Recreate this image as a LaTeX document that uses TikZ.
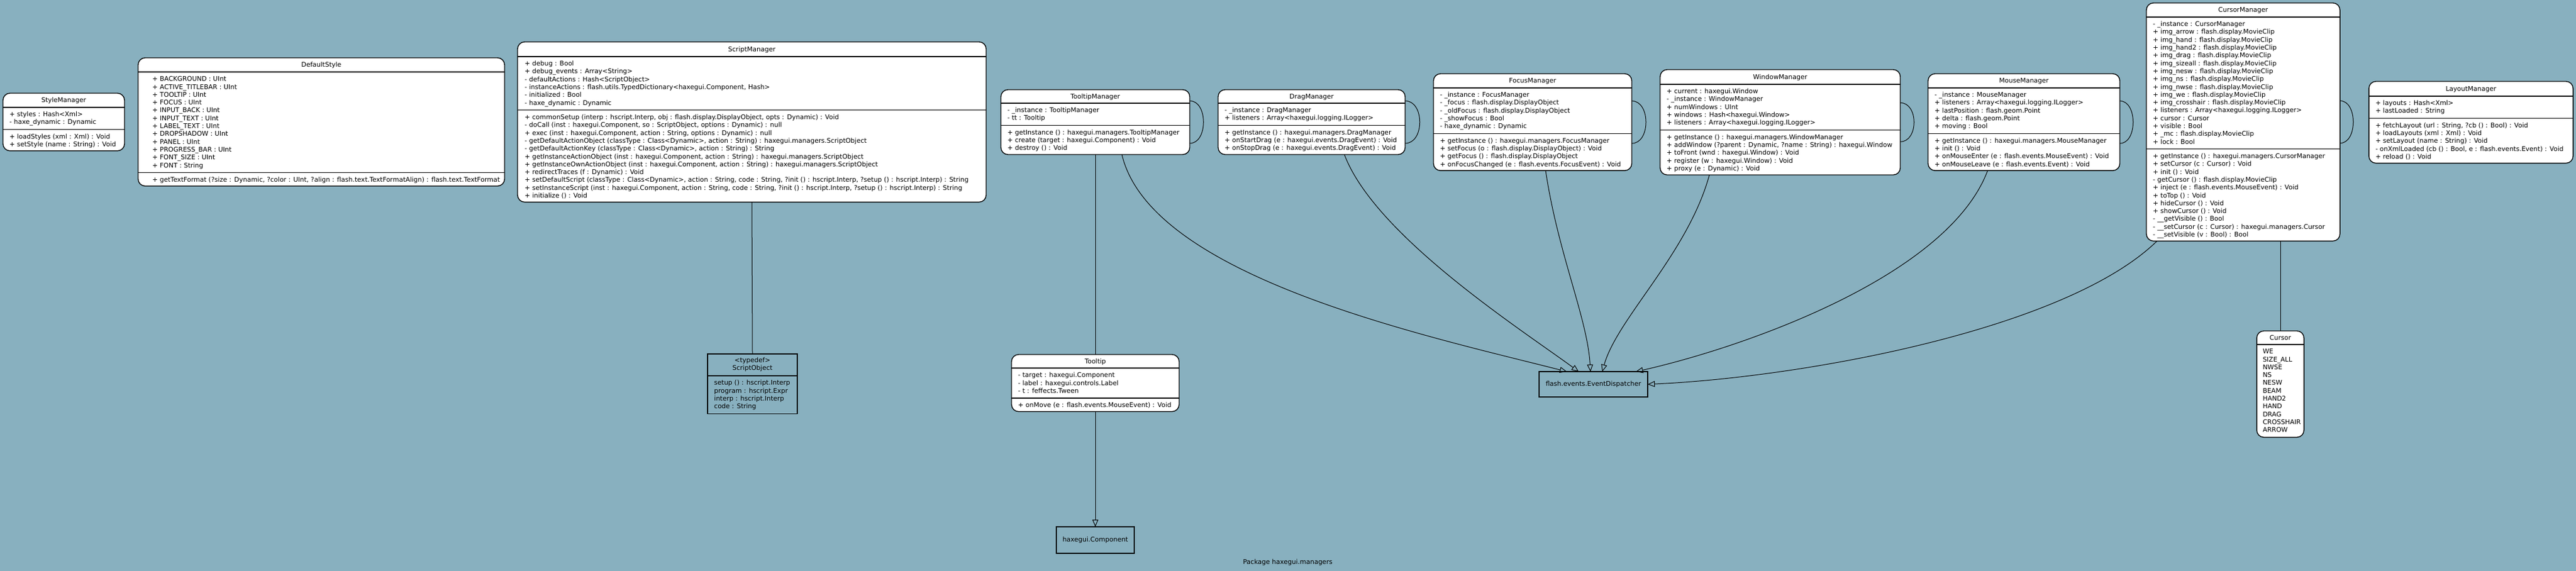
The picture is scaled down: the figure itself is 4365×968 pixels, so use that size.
\documentclass[tikz,border=0pt]{standalone}
\usepackage{fontspec}
\setmainfont{DejaVu Sans}
\usetikzlibrary{arrows.meta}
\definecolor{bgc}{RGB}{136,176,191}
\newcommand\ufont{\fontsize{11}{13.3}\selectfont}
\newcommand\ms{\rule{0pt}{10pt}}
\tikzset{
  clsbox/.style={draw=black, fill=white, line width=1.4pt, rounded corners=12pt, inner sep=0pt, outer sep=0pt},
  sqbox/.style={draw=black, fill=bgc, line width=1.1pt, inner sep=0pt, outer sep=0pt},
  divl/.style={draw=black, line width=1.4pt},
  ttl/.style={anchor=base, inner sep=0pt, font=\ufont},
  mem/.style={anchor=north west, inner sep=0pt, align=left, font=\ufont},
  assoc/.style={draw=black, line width=1pt},
  gen/.style={draw=black, line width=1pt, -{Triangle[open, length=12pt, width=10pt, line width=1pt]}},
}
% name, L, R, T, D1, B, title
\newcommand\uclass[7]{%
  \node[clsbox, anchor=north west, minimum width={#3-#2}, minimum height={#6-#4}] (#1) at (#2,#4) {};
  \node[ttl] (#1-t) at ({(#2+#3)/2},{(#4+#5)/2+4}) {#7};
  \draw[divl] (#2,#5) -- (#3,#5);
}
\newcommand\udiv[3]{\draw[divl] (#1,#3) -- (#2,#3);}
\begin{document}
\begin{tikzpicture}[x=1pt,y=-1pt]
\fill[bgc] (0,0) rectangle (4365,968);
\useasboundingbox (0,0) rectangle (4365,968);

% StyleManager
\uclass{stm}{5}{211}{158}{182}{255.7}{StyleManager}
\udiv{5}{211}{219.6}
\node[mem] (stm-a) at (16,187.5) {\ms+ styles : Hash<Xml>\\- haxe\_dynamic : Dynamic};
\node[mem] (stm-m) at (16,225.1) {\ms+ loadStyles (xml : Xml) : Void\\+ setStyle (name : String) : Void};

% DefaultStyle
\uclass{ds}{234}{855}{98}{122}{315.4}{DefaultStyle}
\udiv{234}{855}{292.6}
\node[mem] (ds-a) at (258,127.5) {\ms+ BACKGROUND : UInt\\+ ACTIVE\_TITLEBAR : UInt\\+ TOOLTIP : UInt\\+ FOCUS : UInt\\+ INPUT\_BACK : UInt\\+ INPUT\_TEXT : UInt\\+ LABEL\_TEXT : UInt\\+ DROPSHADOW : UInt\\+ PANEL : UInt\\+ PROGRESS\_BAR : UInt\\+ FONT\_SIZE : UInt\\+ FONT : String};
\node[mem] (ds-m) at (258,298.1) {\ms+ getTextFormat (?size : Dynamic, ?color : UInt, ?align : flash.text.TextFormatAlign) : flash.text.TextFormat};

% ScriptManager
\uclass{sm}{877}{1671}{71}{96}{342.6}{ScriptManager}
\udiv{877}{1671}{186.8}
\node[mem] (sm-a) at (889,101.5) {\ms+ debug : Bool\\+ debug\_events : Array<String>\\- defaultActions : Hash<ScriptObject>\\- instanceActions : flash.utils.TypedDictionary<haxegui.Component, Hash>\\- initialized : Bool\\- haxe\_dynamic : Dynamic};
\node[mem] (sm-m) at (889,192.3) {\ms+ commonSetup (interp : hscript.Interp, obj : flash.display.DisplayObject, opts : Dynamic) : Void\\- doCall (inst : haxegui.Component, so : ScriptObject, options : Dynamic) : null\\+ exec (inst : haxegui.Component, action : String, options : Dynamic) : null\\- getDefaultActionObject (classType : Class<Dynamic>, action : String) : haxegui.managers.ScriptObject\\- getDefaultActionKey (classType : Class<Dynamic>, action : String) : String\\+ getInstanceActionObject (inst : haxegui.Component, action : String) : haxegui.managers.ScriptObject\\+ getInstanceOwnActionObject (inst : haxegui.Component, action : String) : haxegui.managers.ScriptObject\\+ redirectTraces (f : Dynamic) : Void\\+ setDefaultScript (classType : Class<Dynamic>, action : String, code : String, ?init () : hscript.Interp, ?setup () : hscript.Interp) : String\\+ setInstanceScript (inst : haxegui.Component, action : String, code : String, ?init () : hscript.Interp, ?setup () : hscript.Interp) : String\\+ initialize () : Void};

% TooltipManager
\uclass{tm}{1696}{2016}{152}{175}{262}{TooltipManager}
\udiv{1696}{2016}{212.6}
\node[mem] (tm-a) at (1707,180.5) {\ms- \_instance : TooltipManager\\- tt : Tooltip};
\node[mem] (tm-m) at (1707,218.1) {\ms+ getInstance () : haxegui.managers.TooltipManager\\+ create (target : haxegui.Component) : Void\\+ destroy () : Void};

% DragManager
\uclass{dm}{2064}{2381}{152}{175}{262}{DragManager}
\udiv{2064}{2381}{212.6}
\node[mem] (dm-a) at (2075,180.5) {\ms- \_instance : DragManager\\+ listeners : Array<haxegui.logging.ILogger>};
\node[mem] (dm-m) at (2075,218.1) {\ms+ getInstance () : haxegui.managers.DragManager\\+ onStartDrag (e : haxegui.events.DragEvent) : Void\\+ onStopDrag (e : haxegui.events.DragEvent) : Void};

% FocusManager
\uclass{fm}{2429}{2765}{125}{149}{289.2}{FocusManager}
\udiv{2429}{2765}{226.5}
\node[mem] (fm-a) at (2440,154.5) {\ms- \_instance : FocusManager\\- \_focus : flash.display.DisplayObject\\- \_oldFocus : flash.display.DisplayObject\\- \_showFocus : Bool\\- haxe\_dynamic : Dynamic};
\node[mem] (fm-m) at (2440,232) {\ms+ getInstance () : haxegui.managers.FocusManager\\+ setFocus (o : flash.display.DisplayObject) : Void\\+ getFocus () : flash.display.DisplayObject\\+ onFocusChanged (e : flash.events.FocusEvent) : Void};

% WindowManager
\uclass{wm}{2813}{3220}{118}{143}{296.5}{WindowManager}
\udiv{2813}{3220}{220.5}
\node[mem] (wm-a) at (2824,148.5) {\ms+ current : haxegui.Window\\- \_instance : WindowManager\\+ numWindows : UInt\\+ windows : Hash<haxegui.Window>\\+ listeners : Array<haxegui.logging.ILogger>};
\node[mem] (wm-m) at (2824,226) {\ms+ getInstance () : haxegui.managers.WindowManager\\+ addWindow (?parent : Dynamic, ?name : String) : haxegui.Window\\+ toFront (wnd : haxegui.Window) : Void\\+ register (w : haxegui.Window) : Void\\+ proxy (e : Dynamic) : Void};

% MouseManager
\uclass{mm}{3267}{3592}{125}{149}{289.2}{MouseManager}
\udiv{3267}{3592}{226.5}
\node[mem] (mm-a) at (3278,154.5) {\ms- \_instance : MouseManager\\+ listeners : Array<haxegui.logging.ILogger>\\+ lastPosition : flash.geom.Point\\+ delta : flash.geom.Point\\+ moving : Bool};
\node[mem] (mm-m) at (3278,232) {\ms+ getInstance () : haxegui.managers.MouseManager\\+ init () : Void\\+ onMouseEnter (e : flash.events.MouseEvent) : Void\\+ onMouseLeave (e : flash.events.Event) : Void};

% CursorManager
\uclass{cm}{3637}{3965}{5}{29}{408.6}{CursorManager}
\udiv{3637}{3965}{252.8}
\node[mem] (cm-a) at (3648,34.5) {\ms- \_instance : CursorManager\\+ img\_arrow : flash.display.MovieClip\\+ img\_hand : flash.display.MovieClip\\+ img\_hand2 : flash.display.MovieClip\\+ img\_drag : flash.display.MovieClip\\+ img\_sizeall : flash.display.MovieClip\\+ img\_nesw : flash.display.MovieClip\\+ img\_ns : flash.display.MovieClip\\+ img\_nwse : flash.display.MovieClip\\+ img\_we : flash.display.MovieClip\\+ img\_crosshair : flash.display.MovieClip\\+ listeners : Array<haxegui.logging.ILogger>\\+ cursor : Cursor\\+ visible : Bool\\+ \_mc : flash.display.MovieClip\\+ lock : Bool};
\node[mem] (cm-m) at (3648,258.3) {\ms+ getInstance () : haxegui.managers.CursorManager\\+ setCursor (c : Cursor) : Void\\+ init () : Void\\- getCursor () : flash.display.MovieClip\\+ inject (e : flash.events.MouseEvent) : Void\\+ toTop () : Void\\+ hideCursor () : Void\\+ showCursor () : Void\\- \_\_getVisible () : Bool\\- \_\_setCursor (c : Cursor) : haxegui.managers.Cursor\\- \_\_setVisible (v : Bool) : Bool};

% LayoutManager
\uclass{lm}{4014}{4360}{138}{163}{276.6}{LayoutManager}
\udiv{4014}{4360}{200.6}
\node[mem] (lm-a) at (4025,168.5) {\ms+ layouts : Hash<Xml>\\+ lastLoaded : String};
\node[mem] (lm-m) at (4025,206.1) {\ms+ fetchLayout (url : String, ?cb () : Bool) : Void\\+ loadLayouts (xml : Xml) : Void\\+ setLayout (name : String) : Void\\- onXmlLoaded (cb () : Bool, e : flash.events.Event) : Void\\+ reload () : Void};

% Tooltip
\uclass{tt}{1714}{1998}{601}{624}{697.7}{Tooltip}
\udiv{1714}{1998}{674.9}
\node[mem] (tt-a) at (1725,629.5) {\ms- target : haxegui.Component\\- label : haxegui.controls.Label\\- t : feffects.Tween};
\node[mem] (tt-m) at (1725,680.4) {\ms+ onMove (e : flash.events.MouseEvent) : Void};

% Cursor
\uclass{cu}{3824}{3904}{561}{584}{741.3}{Cursor}
\node[mem] (cu-a) at (3834,589.5) {\ms WE\\SIZE\_ALL\\NWSE\\NS\\NESW\\BEAM\\HAND2\\HAND\\DRAG\\CROSSHAIR\\ARROW};

% ScriptObject (typedef)
\node[sqbox, anchor=north west, minimum width=152, minimum height=101.2] (so) at (1199,600) {};
\node[anchor=north, inner sep=0pt, align=center, font=\ufont] (so-t) at (1275,604) {\ms<typedef>\\ScriptObject};
\draw[sqbox] (1199,637) -- (1351,637);
\node[mem] (so-a) at (1210,642.5) {\ms setup () : hscript.Interp\\program : hscript.Expr\\interp : hscript.Interp\\code : String};

% EventDispatcher and Component
\node[sqbox, minimum width=184, minimum height=43, font=\ufont] (ed) at (2700,651.5) {flash.events.EventDispatcher};
\node[sqbox, minimum width=132, minimum height=45, font=\ufont] (cp) at (1856,915.5) {haxegui.Component};

% package label
\node[font=\ufont, inner sep=0pt] (pkg) at (2182,953) {Package haxegui.managers};

% associations
\draw[assoc] (sm.south) -- (so.north);
\draw[assoc] (tm.south) -- (tt.north);
\draw[assoc] ([xshift=63pt]cm.south) -- (cu.north);

% self loops
\foreach \n/\d/\w in {tm/36/31, dm/36/33, fm/36/32, wm/33/31, mm/36/30, cm/36/30}{
  \draw[assoc] ([yshift=\d pt]\n.east) .. controls ([xshift=\w pt,yshift=\d pt]\n.east) and ([xshift=\w pt,yshift=-\d pt]\n.east) .. ([yshift=-\d pt]\n.east);
}

% generalisations
\draw[gen] (tt.south) -- (cp.north);
\draw[gen] ([xshift=45pt]tm.south) .. controls (1950,470) and (2420,570) .. ([xshift=-45pt]ed.north);
\draw[gen] ([xshift=55.5pt]dm.south) .. controls (2330,400) and (2580,560) .. ([xshift=-25pt]ed.north);
\draw[gen] ([xshift=22pt]fm.south) .. controls (2640,430) and (2690,540) .. ([xshift=-5pt]ed.north);
\draw[gen] ([xshift=-120pt]wm.south) .. controls (2860,430) and (2740,540) .. ([xshift=15pt]ed.north);
\draw[gen] ([xshift=-61.5pt]mm.south) .. controls (3300,470) and (2950,590) .. ([xshift=-20pt]ed.north east);
\draw[gen] ([xshift=18pt]cm.south west) .. controls (3500,560) and (3050,640) .. (ed.east);
\end{tikzpicture}
\end{document}
